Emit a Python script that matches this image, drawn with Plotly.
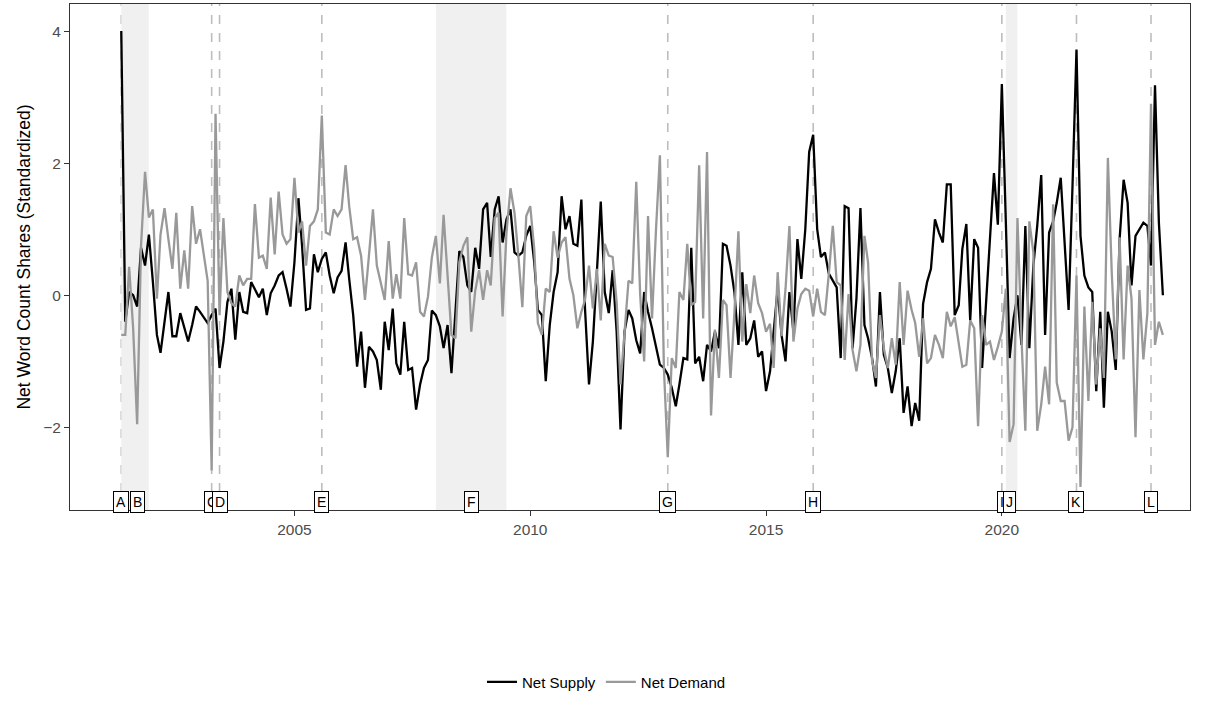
import pandas as pd
import plotly.graph_objects as go

start_month = "2001-05-01"
n_months = 266

net_supply = [
    4.0, -0.4, 0.05, 0.0, -0.17, 0.72, 0.45, 0.92, 0.2, -0.6,
    -0.87, -0.4, 0.05, -0.62, -0.62, -0.27, -0.5, -0.7, -0.45, -0.17,
    -0.25, -0.35, -0.42, -0.3, -0.2, -1.1, -0.7, -0.1, 0.1, -0.67,
    0.05, -0.25, -0.27, 0.2, 0.1, -0.03, 0.1, -0.3, 0.03, 0.15,
    0.3, 0.35, 0.1, -0.17, 0.5, 1.47, 0.75, -0.22, -0.2, 0.62,
    0.35, 0.55, 0.65, 0.3, 0.03, 0.27, 0.37, 0.8, 0.25, -0.3,
    -1.08, -0.55, -1.4, -0.78, -0.85, -0.98, -1.43, -0.4, -0.83, -0.2,
    -1.03, -1.2, -0.4, -1.13, -1.1, -1.73, -1.35, -1.1, -0.98, -0.23,
    -0.3, -0.47, -0.8, -0.45, -1.18, -0.2, 0.67, 0.58, 0.15, 0.05,
    0.72, 0.4, 1.3, 1.4, 0.58, 1.3, 1.5, 0.8, 1.15, 1.3,
    0.65, 0.6, 0.65, 0.9, 1.05, 0.5, -0.22, -0.3, -1.3, -0.45,
    0.05, 0.35, 1.5, 1.0, 1.2, 0.78, 0.75, 1.45, -0.2, -1.35,
    -0.7, 0.35, 1.42, 0.05, -0.27, 0.38, -0.55, -2.03, -0.55, -0.22,
    -0.35, -0.68, -0.88, 0.05, -0.25, -0.5, -0.8, -1.05, -1.1, -1.2,
    -1.4, -1.68, -1.35, -0.95, -0.97, 0.72, -1.03, -0.93, -1.3, -0.75,
    -0.85, -0.55, -0.8, 0.78, 0.75, 0.45, 0.05, -0.75, 0.35, -0.75,
    -0.65, -0.38, -0.93, -0.85, -1.45, -1.15, -0.55, 0.1, -0.6, -1.0,
    0.05, -0.55, 0.85, 0.25, 1.0, 2.17, 2.43, 1.0, 0.58, 0.65,
    0.33, 0.22, 0.12, -0.95, 1.35, 1.32, -0.8, -0.05, 1.32, -0.45,
    -0.65, -0.95, -1.38, 0.05, -0.9, -1.1, -1.48, -1.15, -0.65, -1.78,
    -1.38, -1.98, -1.63, -1.9, -0.13, 0.2, 0.4, 1.15, 0.95, 0.8,
    1.68, 1.68, -0.3, -0.15, 0.7, 1.08, -0.38, 0.85, 0.72, -1.1,
    -0.1, 1.0, 1.85, 1.07, 3.2, 1.1, -0.95, -0.35, 0.0, -0.75,
    1.05, -0.8, 0.45, 1.05, 1.82, -0.6, 0.95, 1.12, 1.4, 1.78,
    0.85, -0.22, 1.65, 3.72, 0.9, 0.3, 0.12, 0.05, -1.45, -0.25,
    -1.7, -0.25, -0.55, -1.13, 0.85, 1.75, 1.4, 0.15, 0.9, 1.0,
    1.1, 1.05, 0.45, 3.18, 1.1, 0.0,
]

net_demand = [
    -0.6, -0.6, 0.43, -0.5, -1.95, 0.75, 1.87, 1.18, 1.3, -0.05,
    0.92, 1.32, 0.85, 0.4, 1.25, 0.1, 0.68, 0.1, 1.35, 0.78,
    1.0, 0.6, 0.22, -2.65, 2.75, -0.3, 1.17, 0.05, -0.12, -0.17,
    0.3, 0.15, 0.25, 0.25, 1.38, 0.57, 0.6, 0.4, 1.48, 0.62,
    1.57, 0.92, 0.78, 0.85, 1.78, 0.95, 1.12, 0.45, 1.05, 1.12,
    1.3, 2.72, 0.95, 0.92, 1.3, 1.2, 1.3, 1.97, 1.35, 0.85,
    0.88, 0.6, -0.07, 0.6, 1.3, 0.45, 0.2, -0.07, 0.82, -0.05,
    0.32, -0.05, 1.17, 0.32, 0.3, 0.5, -0.25, -0.32, -0.02, 0.57,
    0.9, 0.18, 1.22, 0.2, -0.6, -0.65, 0.5, 0.75, 0.88, -0.55,
    0.07, 0.38, -0.07, 0.38, 0.15, 1.17, 1.25, -0.32, 0.95, 1.62,
    1.25, 0.6, -0.18, 1.2, 1.35, 0.7, -0.42, -0.6, 0.1, 0.05,
    0.97, 0.57, 0.8, 0.88, 0.25, 0.0, -0.5, -0.25, -0.07, 0.45,
    -0.2, 0.4, -0.38, 0.78, 0.6, 0.58, -0.1, -1.35, -0.55, 0.22,
    0.18, 1.72, 0.02, -1.0, 1.2, -0.35, 1.0, 2.12, -1.1, -2.45,
    -0.95, -1.1, 0.05, -0.07, 0.78, -0.15, -0.1, 1.97, -0.35, 2.17,
    -1.82, -0.52, -1.25, -0.07, -0.15, -1.25, -0.27, 0.97, -0.7, 0.17,
    -0.27, 0.3, -0.12, -0.27, -0.55, -0.43, -1.1, 0.35, -0.62, 0.1,
    1.05, -0.7, -0.2, 0.02, 0.1, 0.07, -0.32, 0.1, -0.25, -0.3,
    0.32, 1.05, 0.2, 0.15, -0.98, 0.02, -0.83, -1.15, -0.75, 0.9,
    0.5, -1.0, -1.25, -0.3, -0.8, -1.1, -0.65, -1.05, 0.2, -0.75,
    0.07, -0.22, -0.42, -0.93, -0.35, -1.03, -0.95, -0.6, -0.75, -0.95,
    -0.25, -0.47, -0.33, -0.75, -1.08, -1.05, -0.38, -0.5, -1.98, -0.3,
    -0.75, -0.7, -0.98, -0.78, -0.55, 0.1, -2.22, -1.95, 1.17, -0.65,
    -2.05, 1.12, 0.65, -2.05, -1.65, -1.08, -1.65, 1.38, -1.32, -1.6,
    -1.6, -2.2, -2.0, 0.3, -2.9, -0.17, -1.6, -0.1, -1.35, -0.5,
    -1.25, 2.08, 0.35, -0.97, 0.88, -0.97, 0.45, -0.05, -2.15, 0.08,
    -0.97, -0.27, 2.9, -0.75, -0.4, -0.6,
]

event_labels = ["A", "B", "C", "D", "E", "F", "G", "H", "I", "J", "K", "L"]
event_dates = ["2001-05-01", "2001-09-01", "2003-04-01", "2003-06-01",
               "2005-08-01", "2008-10-01", "2012-12-01", "2016-01-01",
               "2020-01-01", "2020-03-01", "2021-08-01", "2023-03-01"]

recession_starts = ["2001-05-01", "2008-01-01", "2020-02-01"]
recession_ends = ["2001-11-30", "2009-06-30", "2020-04-30"]

label_y = -3.13
y_ticks = [-2, 0, 2, 4]
x_tick_years = ["2005-01-01", "2010-01-01", "2015-01-01", "2020-01-01"]
x_tick_text = ["2005", "2010", "2015", "2020"]

dates = pd.date_range(start_month, periods=n_months, freq="MS")

fig = go.Figure()

shapes = []
for d in event_dates:
    shapes.append(dict(type="line", xref="x", yref="paper", x0=d, x1=d, y0=0, y1=1,
                       line=dict(color="#bdbdbd", width=1.6, dash="dash"), layer="below"))
for s, e in zip(recession_starts, recession_ends):
    shapes.append(dict(type="rect", xref="x", yref="paper", x0=s, x1=e, y0=0, y1=1,
                       fillcolor="#f0f0f0", line=dict(width=0), layer="below"))

fig.add_trace(go.Scatter(x=dates, y=net_supply, mode="lines", name="Net Supply",
                         line=dict(color="#000000", width=2.3)))
fig.add_trace(go.Scatter(x=dates, y=net_demand, mode="lines", name="Net Demand",
                         line=dict(color="#999999", width=2.3)))

annotations = []
for lab, d in zip(event_labels, event_dates):
    annotations.append(dict(x=d, y=label_y, xref="x", yref="y", text=lab, showarrow=False,
                            font=dict(family="Liberation Sans, Arial", size=14, color="#000000"),
                            bgcolor="#ffffff", bordercolor="#000000", borderwidth=1, borderpad=2))

fig.update_layout(
    width=1212, height=702,
    margin=dict(l=70, r=22, t=4, b=188),
    paper_bgcolor="#ffffff", plot_bgcolor="#ffffff",
    font=dict(family="Liberation Sans, Arial", color="#000000"),
    shapes=shapes, annotations=annotations,
    showlegend=True,
    legend=dict(orientation="h", x=0.479, xanchor="center", y=-0.34, yanchor="middle",
                font=dict(size=15, color="#000000"), bgcolor="rgba(0,0,0,0)"),
    xaxis=dict(range=["2000-03-30", "2023-12-28"], type="date",
               tickvals=x_tick_years, ticktext=x_tick_text,
               showgrid=False, zeroline=False, showline=True, mirror=True,
               linecolor="#333333", linewidth=1, ticks="outside", ticklen=5,
               tickcolor="#333333", tickfont=dict(size=15.5, color="#4d4d4d")),
    yaxis=dict(range=[-3.25, 4.41], tickvals=y_ticks, ticktext=[str(t).replace("-", "\u2212") for t in y_ticks],
               showgrid=False, zeroline=False, showline=True, mirror=True,
               linecolor="#333333", linewidth=1, ticks="outside", ticklen=5,
               tickcolor="#333333", tickfont=dict(size=15.5, color="#4d4d4d"),
               title=dict(text="Net Word Count Shares (Standardized)", font=dict(size=17.5, color="#000000"),
                          standoff=8)),
)

fig.write_html("out.html")
